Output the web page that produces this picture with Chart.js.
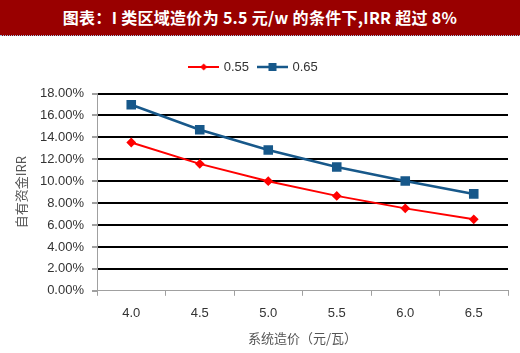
<!DOCTYPE html>
<html>
<head>
<meta charset="utf-8">
<script src="https://cdn.jsdelivr.net/npm/chart.js@4"></script>
<style>
  html, body { margin: 0; padding: 0; background: #fff; width: 520px; height: 353px; overflow: hidden; }
  #title {
    height: 35px; background: #990000; color: #fff;
    font: bold 16px "Noto Sans CJK SC", sans-serif;
    line-height: 35px; text-align: center; letter-spacing: 0.3px;
    border-bottom: 1px dotted #9dc3e6;
  }
  #wrap { position: relative; width: 520px; height: 317px; }
</style>
</head>
<body>
<div id="title">图表：I 类区域造价为 5.5 元/w 的条件下,IRR 超过 8%</div>
<div id="wrap"><canvas id="c"></canvas></div>
<script>
// 系统造价（元/瓦）
const costs = ['4.0', '4.5', '5.0', '5.5', '6.0', '6.5'];
// 自有资金IRR (%)
const irr055 = [13.53, 11.58, 10.0, 8.66, 7.52, 6.52];
const irr065 = [16.97, 14.69, 12.85, 11.3, 10.02, 8.84];
const seriesNames = ['0.55', '0.65'];

const RED = '#FF0000';
const BLUE = '#17588A';
const AXIS = '#A0A0A0';

// icono de leyenda: línea con marcador en medio
function legendIcon(color, style, lw, size) {
  const cv = document.createElement('canvas');
  cv.width = 31; cv.height = 12;
  const g = cv.getContext('2d');
  g.strokeStyle = color; g.lineWidth = lw;
  g.beginPath(); g.moveTo(0, 6); g.lineTo(31, 6); g.stroke();
  g.fillStyle = color;
  if (style === 'rect') {
    g.fillRect(15.5 - size / 2, 6 - size / 2, size, size);
  } else {
    g.beginPath();
    g.moveTo(15.5, 6 - size / 2); g.lineTo(15.5 + size / 2, 6);
    g.lineTo(15.5, 6 + size / 2); g.lineTo(15.5 - size / 2, 6);
    g.closePath(); g.fill();
  }
  return cv;
}
const icons = [legendIcon(RED, 'rectRot', 2, 7), legendIcon(BLUE, 'rect', 2.5, 8)];

// espacio extra bajo la leyenda
const legendGap = {
  id: 'legendGap',
  beforeInit(chart) {
    const fit = chart.legend.fit;
    chart.legend.fit = function () {
      fit.bind(chart.legend)();
      this.height += 10;
    };
  }
};

new Chart(document.getElementById('c'), {
  type: 'line',
  data: {
    labels: costs,
    datasets: [
      {
        label: seriesNames[0], data: irr055,
        borderColor: RED, backgroundColor: RED, borderWidth: 2,
        pointStyle: 'rectRot', pointRadius: 3.5, pointHoverRadius: 3.5
      },
      {
        label: seriesNames[1], data: irr065,
        borderColor: BLUE, backgroundColor: BLUE, borderWidth: 2.5,
        pointStyle: 'rect', pointRadius: 5, pointHoverRadius: 5
      }
    ]
  },
  plugins: [legendGap],
  options: {
    responsive: true,
    maintainAspectRatio: false,
    animation: false,
    layout: { padding: { left: 0, right: 12, top: 14.5, bottom: 7 } },
    plugins: {
      tooltip: { enabled: false },
      legend: {
        position: 'top',
        labels: {
          usePointStyle: true,
          pointStyleWidth: 27,
          padding: 10,
          color: '#333',
          font: { family: 'Liberation Sans', size: 13 },
          generateLabels(chart) {
            const items = Chart.defaults.plugins.legend.labels.generateLabels(chart);
            items.forEach((it, i) => { it.pointStyle = icons[i]; });
            return items;
          }
        }
      }
    },
    scales: {
      x: {
        offset: true,
        grid: { offset: true, drawOnChartArea: false, color: AXIS, tickLength: 5 },
        border: { color: AXIS, width: 1 },
        ticks: { color: '#333', padding: 10, font: { family: 'Liberation Sans', size: 13 } },
        title: {
          display: true, text: '系统造价（元/瓦）', color: '#555',
          font: { family: 'Noto Sans CJK SC', size: 13 }, padding: { top: -1, bottom: 0 }
        }
      },
      y: {
        min: 0, max: 18,
        afterFit(s) { s.width = 97; },
        ticks: {
          stepSize: 2, color: '#333', padding: 8,
          font: { family: 'Liberation Sans', size: 13 },
          callback: v => v.toFixed(2) + '%'
        },
        grid: {
          color: c => (c.tick && c.tick.value === 0) ? 'rgba(0,0,0,0)' : '#000',
          tickColor: AXIS, lineWidth: 2, tickLength: 5
        },
        border: { color: AXIS, width: 1 },
        title: {
          display: true, text: '自有资金IRR', color: '#555',
          font: { family: 'Noto Sans CJK SC', size: 13 }, padding: { top: 13, bottom: 0 }
        }
      }
    }
  }
});
</script>
</body>
</html>
